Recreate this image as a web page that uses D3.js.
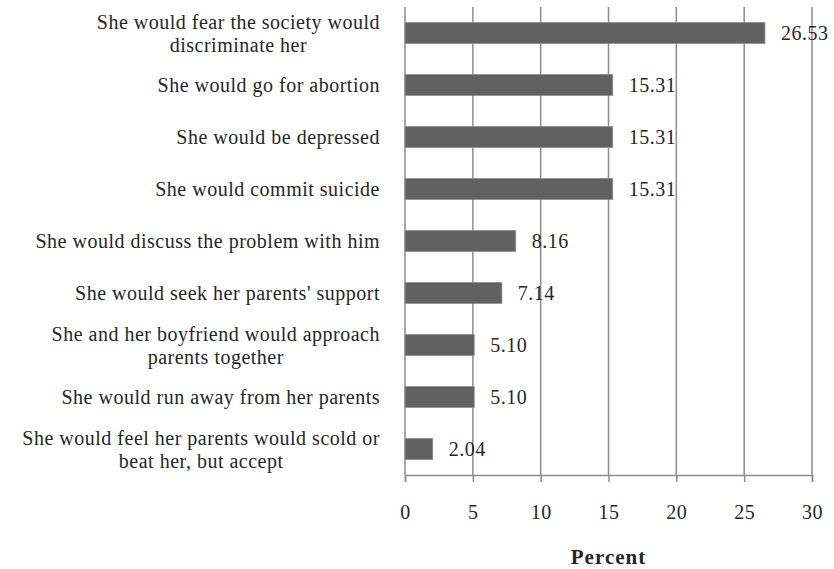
<!DOCTYPE html>
<html>
<head>
<meta charset="utf-8">
<script src="https://cdn.jsdelivr.net/npm/d3@7"></script>
<style>
  html, body { margin: 0; padding: 0; background: #fff; }
  svg { display: block; }
  text { font-family: "Liberation Serif", "DejaVu Serif", serif; fill: #262626; }
</style>
</head>
<body>
<svg id="chart" width="834" height="569"></svg>
<script>
// Responses, top to bottom; "\n" marks a wrapped label line
const categories = [
  "She would fear the society would\ndiscriminate her",
  "She would go for abortion",
  "She would be depressed",
  "She would commit suicide",
  "She would discuss the problem with him",
  "She would seek her parents' support",
  "She and her boyfriend would approach\nparents together",
  "She would run away from her parents",
  "She would feel her parents would scold or\nbeat her, but accept"
];
const percentValues = [26.53, 15.31, 15.31, 15.31, 8.16, 7.14, 5.10, 5.10, 2.04];
const tickValues = [0, 5, 10, 15, 20, 25, 30];
const axisTitle = "Percent";

const svg = d3.select("#chart");
const margin = { top: 7, right: 22, bottom: 94, left: 405 };
const W = 834, H = 569;
const fontSize = 20;
const spacing = "0.5px";

const x = d3.scaleLinear().domain([0, 30]).range([margin.left, W - margin.right]);
const y = d3.scaleBand().domain(categories).range([margin.top, H - margin.bottom]).paddingInner(0.6).paddingOuter(0.3);

const gridColor = "#8c8c8c";

// vertical gridlines
svg.append("g").selectAll("line").data(tickValues).join("line")
  .attr("x1", d => x(d)).attr("x2", d => x(d))
  .attr("y1", margin.top).attr("y2", H - margin.bottom)
  .attr("stroke", gridColor).attr("stroke-width", 1.5);

// bottom axis
const xAxis = d3.axisBottom(x).tickValues(tickValues).tickSize(7).tickPadding(23).tickFormat(d3.format("d"));
const gx = svg.append("g").attr("transform", `translate(0,${H - margin.bottom})`).call(xAxis);
gx.select(".domain").attr("stroke", gridColor).attr("stroke-width", 1.5);
gx.selectAll(".tick line").attr("stroke", gridColor).attr("stroke-width", 1.5);
gx.selectAll(".tick text").attr("font-size", fontSize).attr("letter-spacing", spacing)
  .attr("font-family", "Liberation Serif, serif").attr("fill", "#262626");

// bars
svg.append("g").selectAll("rect").data(percentValues).join("rect")
  .attr("x", x(0))
  .attr("y", (d, i) => y(categories[i]))
  .attr("width", d => x(d) - x(0))
  .attr("height", y.bandwidth())
  .attr("fill", "#616161")
  .attr("stroke", "#8a8a8a")
  .attr("stroke-width", 0.8);

// value labels
svg.append("g").selectAll("text").data(percentValues).join("text")
  .attr("x", d => x(d) + 16)
  .attr("y", (d, i) => y(categories[i]) + y.bandwidth() / 2)
  .attr("dy", "0.35em")
  .attr("font-size", fontSize)
  .attr("letter-spacing", spacing)
  .text(d => d.toFixed(2));

// category labels (right aligned, wrapped lines centred on each other)
const labelRight = 380;
const lineH = 23;
const catG = svg.append("g");
categories.forEach(c => {
  const lines = c.split("\n");
  const cy = y(c) + y.bandwidth() / 2;
  const t = catG.append("text").attr("font-size", fontSize).attr("letter-spacing", spacing);
  if (lines.length === 1) {
    t.attr("x", labelRight).attr("y", cy).attr("dy", "0.35em").attr("text-anchor", "end").text(lines[0]);
  } else {
    // measure the first line to centre the others under it
    const probe = catG.append("text").attr("font-size", fontSize).attr("letter-spacing", spacing).text(lines[0]);
    const w = probe.node().getComputedTextLength();
    probe.remove();
    const cx = labelRight - w / 2;
    lines.forEach((ln, k) => {
      t.append("tspan").attr("x", cx).attr("text-anchor", "middle")
        .attr("y", cy + (k - (lines.length - 1) / 2) * lineH).attr("dy", "0.35em").text(ln);
    });
  }
});

// axis title
svg.append("text")
  .attr("x", (x(0) + x(30)) / 2).attr("y", 564)
  .attr("text-anchor", "middle").attr("font-size", 21).attr("letter-spacing", "1px").attr("font-weight", "bold")
  .text(axisTitle);
</script>
</body>
</html>
